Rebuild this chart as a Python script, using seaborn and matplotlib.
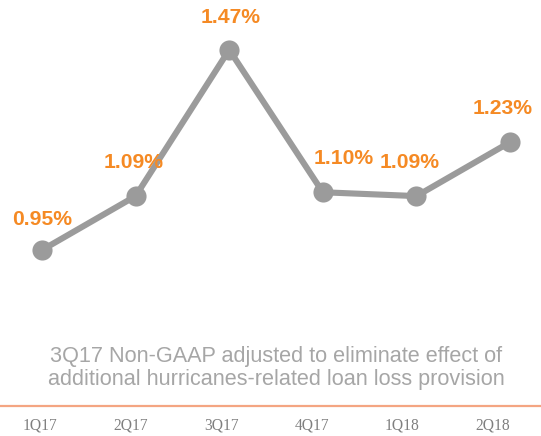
import matplotlib
matplotlib.use('Agg')
import matplotlib.pyplot as plt
import seaborn as sns
import pandas as pd

quarters = ['1Q17', '2Q17', '3Q17', '4Q17', '1Q18', '2Q18']
ratio = [0.95, 1.09, 1.47, 1.10, 1.09, 1.23]
labels = ['0.95%', '1.09%', '1.47%', '1.10%', '1.09%', '1.23%']
note = '3Q17 Non-GAAP adjusted to eliminate effect of\nadditional hurricanes-related loan loss provision'

# pixel offsets of the value labels from their points
offs = [(0, 31), (-2, 34), (1, 32), (21, 34), (-7, 34), (-7, 34)]

df = pd.DataFrame({'pos': range(len(quarters)), 'ratio': ratio})

sns.set_style('white')
plt.rcParams['font.family'] = ['Liberation Sans', 'DejaVu Sans']

fig = plt.figure(figsize=(5.41, 4.36), dpi=100)
ax = fig.add_axes([0, 1 - 406 / 436, 1, 406 / 436])

sns.lineplot(data=df, x='pos', y='ratio', ax=ax, color='#9b9b9b', lw=4.4,
             marker='o', markersize=14.5, markeredgewidth=0, markerfacecolor='#9b9b9b')

for i, (v, t) in enumerate(zip(ratio, labels)):
    ax.annotate(t, (i, v), xytext=offs[i], textcoords='offset pixels',
                ha='center', va='center', color='#f58a24', fontsize=15.2, fontweight='bold')

ax.set_xlim(-42 / 93.6, (541 - 42) / 93.6)
ax.set_ylim(0.95 - 156 / 385, 0.95 + 250 / 385)
ax.set_xlabel('')
ax.set_ylabel('')
ax.set_yticks([])
ax.set_xticks([])
for s in ['top', 'left', 'right']:
    ax.spines[s].set_visible(False)
ax.spines['bottom'].set_color('#f4a582')
ax.spines['bottom'].set_linewidth(1.6)

# quarter labels sit on their own spacing
ax2 = ax.twiny()
ax2.set_xlim(-40 / 90.6, (541 - 40) / 90.6)
ax2.xaxis.set_ticks_position('bottom')
ax2.set_xticks(range(len(quarters)))
ax2.set_xticklabels(quarters, family=['Liberation Serif', 'DejaVu Serif'],
                    color='#7f7f7f', fontsize=11.2)
ax2.tick_params(axis='x', length=0, pad=8)
for s in ax2.spines.values():
    s.set_visible(False)

fig.text(276 / 541, 1 - 368 / 436, note, ha='center', va='center',
         color='#a6a6a6', fontsize=15.6, linespacing=1.12)

fig.savefig('out.png', dpi=100)
